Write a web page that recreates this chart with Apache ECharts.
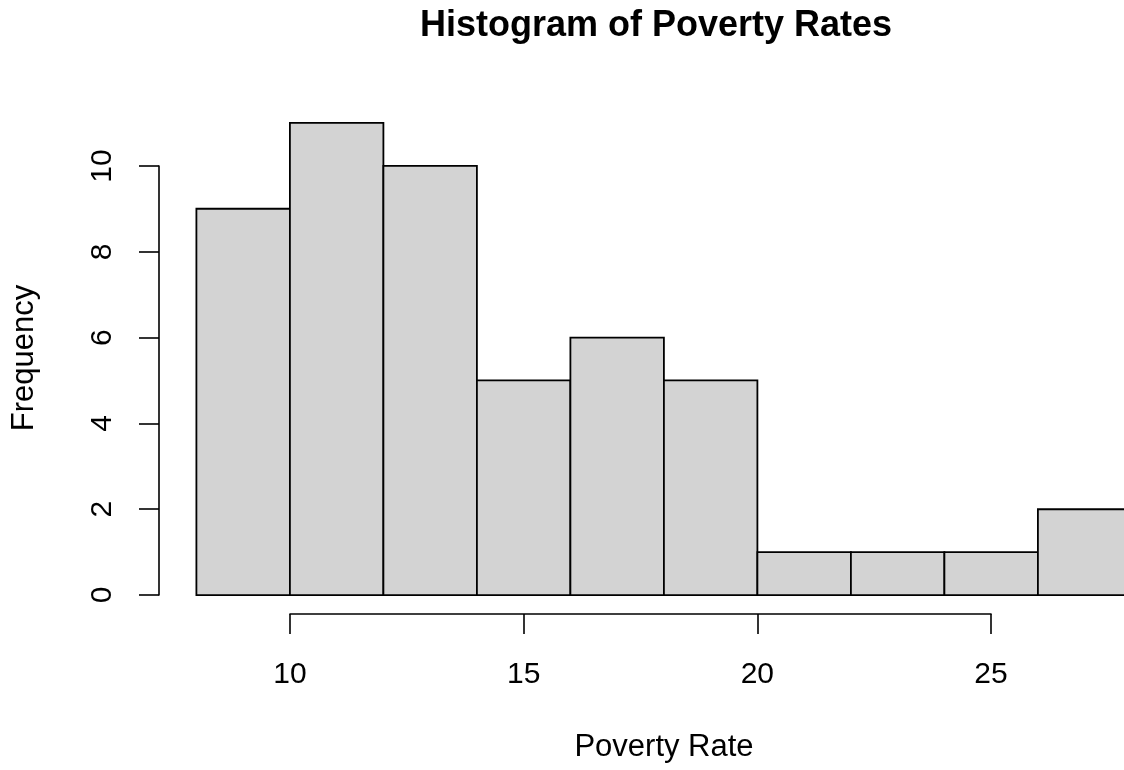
<!DOCTYPE html>
<html>
<head>
<meta charset="utf-8">
<script src="https://cdn.jsdelivr.net/npm/echarts@6/dist/echarts.min.js"></script>
<style>
html,body{margin:0;padding:0;background:#fff;}
#chart{width:1124px;height:770px;}
</style>
</head>
<body>
<div id="chart"></div>
<script>
const binStarts = [8, 10, 12, 14, 16, 18, 20, 22, 24, 26];
const binEnds   = [10, 12, 14, 16, 18, 20, 22, 24, 26, 28];
const counts    = [9, 11, 10, 5, 6, 5, 1, 1, 1, 2];
const xTicks = [10, 15, 20, 25];
const yTicks = [0, 2, 4, 6, 8, 10];
const titleText = 'Histogram of Poverty Rates';
const xName = 'Poverty Rate';
const yName = 'Frequency';

const FONT = 'Liberation Sans, Arial, Helvetica, sans-serif';
const data = binStarts.map((s, i) => [s, binEnds[i], counts[i]]);

const chart = echarts.init(document.getElementById('chart'));
chart.setOption({
  backgroundColor: '#fff',
  animation: false,
  graphic: [
    {type: 'text', x: 656, y: 26.5,
     style: {text: titleText, textAlign: 'center', textVerticalAlign: 'middle',
             font: 'bold 36px ' + FONT, fill: '#000'}},
    {type: 'text', x: 664, y: 747,
     style: {text: xName, textAlign: 'center', textVerticalAlign: 'middle',
             font: '31px ' + FONT, fill: '#000'}},
    {type: 'text', x: 24.5, y: 358, rotation: Math.PI / 2,
     style: {text: yName, textAlign: 'center', textVerticalAlign: 'middle',
             font: '31px ' + FONT, fill: '#000'}}
  ],
  grid: [
    {left: 159, top: 104, right: 0, height: 510},      // data region
    {left: 159, top: 166, width: 100, height: 429},    // y-axis (0..10)
    {left: 290, top: 100, width: 701, height: 514}     // x-axis (10..25)
  ],
  xAxis: [
    {gridIndex: 0, type: 'value', min: 7.2, max: 7.2 + 965 / 46.75, show: false},
    {gridIndex: 1, type: 'value', min: 0, max: 1, show: false},
    {gridIndex: 2, type: 'value', min: xTicks[0], max: xTicks[xTicks.length - 1], interval: 5, position: 'bottom',
     axisLine: {show: true, lineStyle: {color: '#000', width: 1.6}},
     axisTick: {show: true, length: 20, lineStyle: {color: '#000', width: 1.6}},
     axisLabel: {margin: 46, fontFamily: FONT, fontSize: 30, color: '#000',
                 showMinLabel: true, showMaxLabel: true},
     splitLine: {show: false}
    }
  ],
  yAxis: [
    {gridIndex: 0, type: 'value', min: -0.44, max: 11.44, show: false},
    {gridIndex: 1, type: 'value', min: yTicks[0], max: yTicks[yTicks.length - 1], interval: 2, position: 'left',
     axisLine: {show: true, lineStyle: {color: '#000', width: 1.6}},
     axisTick: {show: true, length: 20, lineStyle: {color: '#000', width: 1.6}},
     axisLabel: {margin: 41, rotate: 90, fontFamily: FONT, fontSize: 30, color: '#000',
                 showMinLabel: true, showMaxLabel: true},
     splitLine: {show: false}
    },
    {gridIndex: 2, type: 'value', min: 0, max: 1, show: false}
  ],
  series: [{
    type: 'custom',
    xAxisIndex: 0, yAxisIndex: 0,
    clip: false,
    encode: {x: [0, 1], y: 2},
    data: data,
    renderItem: function (params, api) {
      const p0 = api.coord([api.value(0), 0]);
      const p1 = api.coord([api.value(1), api.value(2)]);
      return {
        type: 'rect',
        shape: {x: p0[0], y: p1[1], width: p1[0] - p0[0], height: p0[1] - p1[1]},
        style: {fill: '#d3d3d3', stroke: '#000', lineWidth: 1.8}
      };
    }
  }]
});
</script>
</body>
</html>
